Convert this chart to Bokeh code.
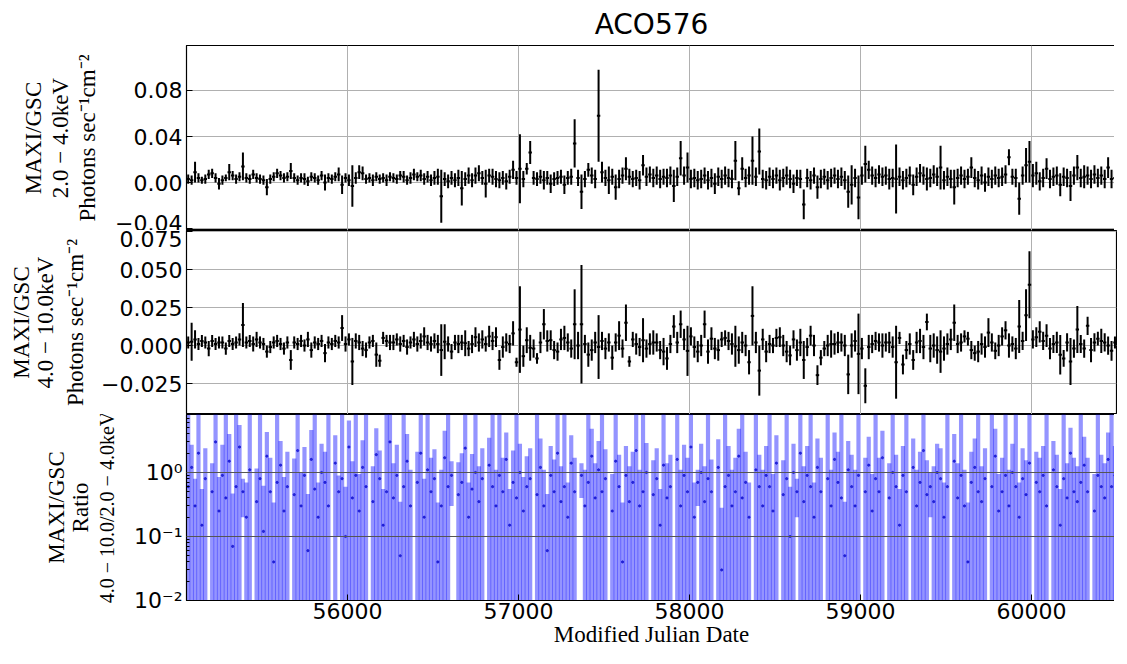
import numpy as np
from bokeh.plotting import figure
from bokeh.layouts import column, row, Spacer
from bokeh.models import (ColumnDataSource, Range1d, SingleIntervalTicker,
                          FixedTicker, CustomJSTickFormatter, LinearAxis)
from bokeh.embed import file_html
from bokeh.resources import INLINE

TITLE = "ACO576"

# bin centres (MJD)
mjd = [55068, 55088, 55108, 55128, 55148, 55168, 55188, 55208, 55228, 55248,
       55268, 55288, 55308, 55328, 55348, 55368, 55388, 55408, 55428, 55448,
       55468, 55488, 55508, 55528, 55548, 55568, 55588, 55608, 55628, 55648,
       55668, 55688, 55708, 55728, 55748, 55768, 55788, 55808, 55828, 55848,
       55868, 55888, 55908, 55928, 55948, 55968, 55988, 56008, 56028, 56048,
       56068, 56088, 56108, 56128, 56148, 56168, 56188, 56208, 56228, 56248,
       56268, 56288, 56308, 56328, 56348, 56368, 56388, 56408, 56428, 56448,
       56468, 56488, 56508, 56528, 56548, 56568, 56588, 56608, 56628, 56648,
       56668, 56688, 56708, 56728, 56748, 56768, 56788, 56808, 56828, 56848,
       56868, 56888, 56908, 56928, 56948, 56968, 56988, 57008, 57028, 57048,
       57068, 57088, 57108, 57128, 57148, 57168, 57188, 57208, 57228, 57248,
       57268, 57288, 57308, 57328, 57348, 57368, 57388, 57408, 57428, 57448,
       57468, 57488, 57508, 57528, 57548, 57568, 57588, 57608, 57628, 57648,
       57668, 57688, 57708, 57728, 57748, 57768, 57788, 57808, 57828, 57848,
       57868, 57888, 57908, 57928, 57948, 57968, 57988, 58008, 58028, 58048,
       58068, 58088, 58108, 58128, 58148, 58168, 58188, 58208, 58228, 58248,
       58268, 58288, 58308, 58328, 58348, 58368, 58388, 58408, 58428, 58448,
       58468, 58488, 58508, 58528, 58548, 58568, 58588, 58608, 58628, 58648,
       58668, 58688, 58708, 58728, 58748, 58768, 58788, 58808, 58828, 58848,
       58868, 58888, 58908, 58928, 58948, 58968, 58988, 59008, 59028, 59048,
       59068, 59088, 59108, 59128, 59148, 59168, 59188, 59208, 59228, 59248,
       59268, 59288, 59308, 59328, 59348, 59368, 59388, 59408, 59428, 59448,
       59468, 59488, 59508, 59528, 59548, 59568, 59588, 59608, 59628, 59648,
       59668, 59688, 59708, 59728, 59748, 59768, 59788, 59808, 59828, 59848,
       59868, 59888, 59908, 59928, 59948, 59968, 59988, 60008, 60028, 60048,
       60068, 60088, 60108, 60128, 60148, 60168, 60188, 60208, 60228, 60248,
       60268, 60288, 60308, 60328, 60348, 60368, 60388, 60408, 60428, 60448,
       60468, 60488]
bin_half_width = 10.0

# 2.0-4.0 keV rate and error (photons/s/cm2)
rate_2_4 = [.003, .002, .009, .004, .002, .003, .007, .008, .004, -.001,
            .002, .004, .009, .006, .003, .005, .014, .004, .003, .007,
            .004, .003, .002, -.004, .003, .005, .008, .006, .004, .005,
            .010, .004, .002, .004, .003, .001, .005, .004, .002, .006,
            .000, .004, .003, .005, .007, -.002, .004, .002, -.003, .004,
            .009, .008, .003, .004, .002, .005, .003, .004, .002, .005,
            .004, .003, .006, .005, .002, .004, .007, .005, .006, .003,
            .005, .002, .004, .005, -.012, .003, .001, .004, .002, .004,
            -.005, .003, .006, .002, .006, .008, .004, -.001, .006, .005,
            .003, .002, .004, .001, .005, .011, .004, .012, .003, .012,
            .026, .004, .003, .005, .002, .004, -.001, .003, .004, .005,
            -.002, .004, .005, .034, .004, -.008, .003, .011, .006, .003,
            .058, .009, .004, .002, .005, -.004, .003, .006, .012, .005,
            .003, .004, .002, .015, .005, .007, .004, .006, .003, .005,
            .004, .006, -.003, .005, .021, .006, .013, .003, .004, .002,
            .003, .006, .002, .004, -.001, .005, .003, .006, .004, .003,
            .019, -.005, .012, .004, .006, .019, .005, .027, .003, .002,
            .005, .003, .006, .002, .004, .006, .003, -.001, .004, .003,
            -.019, .004, .002, .006, -.004, .003, .005, .002, .004, .006,
            .003, .005, .002, -.008, -.002, .004, -.013, .006, .016, .011,
            .006, .004, .007, .005, .006, .003, .004, .003, .005, .002,
            .004, .006, -.002, .005, .008, .006, .003, .004, .007, .005,
            .013, .002, .005, .003, -.004, .004, .006, .003, .005, .013,
            .004, .002, .006, .000, .005, .003, .006, .004, .005, .007,
            .022, .005, .004, -.014, .006, .015, .018, .006, .008, .001,
            .004, .012, .003, .005, .006, -.002, .005, .004, -.003, .006,
            .013, .004, .005, .006, .003, .007, .004, .006, .003, .013,
            .003, .004]
err_2_4 = [.004, .004, .009, .004, .003, .004, .004, .004, .004, .005,
           .004, .003, .007, .004, .004, .004, .012, .004, .004, .004,
           .004, .004, .004, .007, .004, .004, .004, .004, .004, .004,
           .007, .004, .004, .004, .005, .004, .004, .004, .004, .004,
           .007, .004, .004, .004, .006, .008, .004, .005, .018, .005,
           .006, .006, .004, .004, .005, .004, .004, .004, .005, .004,
           .004, .004, .004, .005, .004, .005, .005, .004, .005, .005,
           .005, .005, .006, .007, .023, .006, .006, .006, .006, .007,
           .015, .006, .007, .006, .007, .007, .006, .012, .006, .007,
           .007, .007, .006, .007, .006, .008, .006, .030, .007, .005,
           .010, .006, .006, .006, .008, .006, .008, .006, .006, .006,
           .008, .006, .007, .021, .007, .015, .007, .006, .007, .008,
           .040, .009, .007, .012, .007, .011, .008, .007, .010, .007,
           .007, .007, .008, .009, .008, .007, .008, .008, .008, .007,
           .008, .008, .014, .008, .015, .008, .013, .008, .008, .008,
           .008, .007, .008, .008, .009, .008, .008, .008, .008, .008,
           .017, .006, .010, .008, .008, .021, .008, .020, .008, .008,
           .008, .008, .007, .009, .008, .008, .008, .008, .007, .008,
           .013, .008, .008, .007, .010, .008, .007, .008, .008, .007,
           .008, .008, .008, .014, .017, .008, .019, .008, .016, .008,
           .008, .008, .008, .008, .008, .009, .008, .030, .008, .008,
           .008, .008, .009, .008, .008, .008, .010, .008, .008, .008,
           .019, .008, .008, .008, .015, .008, .008, .008, .007, .009,
           .008, .008, .008, .008, .008, .008, .008, .008, .008, .008,
           .007, .007, .008, .014, .008, .015, .018, .010, .010, .008,
           .008, .009, .008, .008, .008, .010, .008, .008, .013, .008,
           .011, .008, .010, .008, .008, .008, .008, .008, .008, .009,
           .008, .006]

# 4.0-10.0 keV rate and error (photons/s/cm2)
rate_4_10 = [.002, .0025, .004, .001, .003, .002, -.002, .003, .001, .002,
             .002, -.002, .003, .001, .002, .004, .0135, .002, .003, .001,
             .004, .002, .001, -.004, -.001, .002, .003, .001, -.002, .002,
             -.0095, .002, .001, .003, .000, .004, -.003, .002, .001, .003,
             -.005, .002, .001, .003, .002, .0115, .001, .004, -.0105, .003,
             .002, -.002, -.003, .002, .003, -.006, -.010, .005, .003, .002,
             .002, .004, .001, .003, -.001, .002, .004, .001, .003, .006,
             .002, .001, .003, .001, -.003, .0025, .001, -.004, .002, .001,
             .002, .0015, -.002, .001, .0055, .002, .004, .001, .006, .003,
             .0055, -.0095, -.001, .002, .001, .008, -.011, .0105, -.007, .0035,
             -.0015, -.002, -.0085, .002, .014, .003, .0035, -.003, -.004, .004,
             .005, .002, -.002, .014, .000, .014, .001, -.006, -.003, .002,
             -.001, .003, -.002, .002, -.008, .002, .0065, -.002, .015, -.0105,
             .004, .001, -.001, .0035, -.002, .001, .002, .002, -.003, -.004,
             -.0085, .001, .0125, .002, .014, .004, -.0035, .006, -.001, -.004,
             .000, .014, -.004, .0045, -.002, -.003, .004, .005, .003, .001,
             -.0005, -.003, .002, .000, -.011, .0195, .002, -.0165, .004, -.004,
             .001, .000, .005, .0055, .000, -.004, -.0065, .004, -.003, .002,
             -.0095, -.001, .0065, .000, -.0195, -.008, -.002, .000, .001, .001,
             .002, .002, .000, -.019, .000, .003, -.0055, -.002, -.0265, -.001,
             .001, .003, .002, .000, .002, .002, -.001, -.011, .005, -.0125,
             -.003, .001, -.0095, .002, .003, -.001, .0155, -.002, .000, -.003,
             -.004, -.002, .001, .004, .015, .001, .002, .006, .0045, -.003,
             -.005, -.004, .001, -.001, .0085, .002, -.0035, .000, .006, .010,
             .000, .001, -.002, .0125, .003, .020, .040, .004, .0055, .009,
             .003, .0065, -.002, .001, .002, -.006, -.0085, .002, -.0105, -.002,
             .0105, .001, -.002, .013, -.003, .002, .0045, .003, .002, .000,
             -.0035, .002]
err_4_10 = [.004, .0125, .006, .004, .004, .004, .005, .004, .004, .004,
            .004, .004, .004, .004, .004, .004, .0145, .004, .004, .005,
            .005, .004, .004, .004, .004, .004, .004, .004, .004, .004,
            .0065, .004, .004, .004, .004, .005, .005, .004, .004, .004,
            .006, .004, .004, .004, .004, .0085, .005, .004, .0155, .005,
            .005, .005, .005, .004, .004, .008, .004, .004, .004, .005,
            .005, .004, .005, .004, .005, .004, .005, .005, .005, .006,
            .005, .005, .005, .006, .017, .0115, .005, .005, .005, .006,
            .005, .0085, .005, .006, .0065, .006, .006, .005, .007, .006,
            .0065, .0065, .007, .006, .006, .008, .003, .0285, .007, .0085,
            .0085, .006, .0035, .007, .010, .007, .0065, .006, .006, .007,
            .008, .006, .006, .023, .009, .039, .006, .008, .007, .007,
            .021, .006, .007, .006, .008, .006, .0095, .006, .012, .0035,
            .005, .007, .006, .0145, .006, .007, .008, .006, .006, .009,
            .0075, .006, .0075, .007, .009, .007, .0165, .006, .007, .007,
            .007, .009, .008, .0075, .007, .007, .005, .005, .006, .007,
            .0135, .009, .007, .007, .008, .0195, .007, .0165, .007, .007,
            .006, .005, .006, .0065, .007, .007, .0065, .006, .007, .009,
            .0125, .006, .0065, .007, .0065, .005, .005, .007, .009, .007,
            .007, .006, .007, .013, .008, .007, .0265, .007, .0115, .008,
            .006, .006, .006, .008, .006, .007, .007, .024, .004, .0065,
            .006, .007, .0065, .007, .008, .008, .0055, .009, .008, .009,
            .014, .008, .007, .007, .012, .006, .006, .004, .0045, .006,
            .005, .007, .007, .007, .0095, .006, .0055, .007, .006, .006,
            .008, .005, .007, .0175, .006, .017, .022, .006, .0065, .007,
            .006, .0075, .007, .006, .007, .013, .0055, .006, .0155, .006,
            .0155, .006, .006, .006, .008, .006, .0045, .008, .006, .006,
            .0065, .004]

# hardness ratio (4.0-10.0 / 2.0-4.0) and its error; None = not positive
ratio = [.6, 1.2, .3, 2.0, .15, .8, None, .5, 3.0, .25,
         .9, .4, 1.5, .07, .6, 2.5, .5, .2, 1.1, None,
         .35, .8, .12, 1.8, .5, .04, .7, 1.3, .25, .6,
         None, .45, 2.2, .3, .9, .06, 1.6, .55, .2, 1.0,
         .7, .3, None, 1.4, .5, .8, .1, 2.5, .4, .9,
         .25, 1.2, .6, None, .35, 1.9, .8, .15, .5, 3.0,
         .4, .9, .05, .6, 1.5, .3, None, .7, 2.0, .2,
         1.1, .5, .8, .04, .3, 1.7, .6, .9, None, .45,
         .7, 2.4, .2, .55, 1.0, .35, .8, None, 1.3, .6,
         .3, .9, .5, 1.6, .15, .7, .4, 1.0, .25, .6,
         .8, None, .45, 1.2, .3, .06, .9, .5, 2.0, .35,
         .6, .2, 1.4, .5, None, .9, .3, .7, 1.8, .4,
         1.1, .5, .8, None, .25, 1.5, .6, .04, .9, .35,
         .7, 2.2, .3, .5, 1.0, None, .45, .8, .15, 1.3,
         .4, .6, None, 1.6, .3, .9, .5, 2.5, .2, .7,
         1.0, .35, .8, .5, None, 1.2, .03, .6, .9, .3,
         .5, 1.8, .4, .7, .2, None, 1.1, .6, .3, .9,
         .6, .25, 1.4, None, .45, .8, .1, 1.0, .5, 2.0,
         .35, .9, .6, .2, 1.2, .5, None, .8, .3, 1.6,
         .7, .4, .05, 1.1, .6, .3, .9, None, .5, 1.3,
         .25, .8, .5, 1.7, None, .4, 1.0, .6, .15, .9,
         .5, None, 1.2, .3, .7, 2.2, .45, .6, .35, 1.0,
         .8, .2, .6, None, 1.5, .4, .9, .3, .04, .7,
         1.2, .5, .35, .8, None, .6, 1.8, .25, .5, .9,
         .3, 1.0, .6, .2, .8, .45, 1.4, None, .7, .5,
         .9, .3, None, 1.1, .6, .15, .8, .4, 2.0, .5,
         .35, .7, 1.3, .5, None, .25, .9, .6, .4, 1.6,
         .6, .9]
ratio_err = [9, 1.5, .5, 10, .4, 1.6, 1, .9, 12, .6,
             1.8, 8, 2.5, .4, 10, 3, .3, .5, 9, 1,
             .8, 12, .5, 2.5, 1.2, .3, 9, 1.8, .6, 1.5,
             1, 1.2, 9, .7, 1.6, .4, 3, 11, .5, 1.8,
             1.4, 9, 1, 2.4, .4, 12, .5, 4, 1.1, 10,
             .7, 2, 9, 1, .9, 3, 1.4, .4, 10, 9,
             1, 1.8, .3, 11, 2.5, .8, 1, 1.4, 10, .6,
             9, 1.2, 1.5, .3, .8, 2.8, 10, .6, 1, 1,
             1.3, 9, .5, 1.4, 11, .9, 1.6, 1, 2.2, 9,
             .8, 10, 1.2, 2.6, .4, 1.5, 9, 1.8, .6, 1.2,
             1.6, 1, 10, 2.2, .8, .4, 1.7, 1.1, 9, .9,
             10, .5, 2.4, 1.2, 1, .5, .8, 9, 3, 1,
             2, 9, 1.5, 1, .7, 11, 1.3, .3, 1.7, .9,
             1.4, 9, .8, 10, 1.9, 1, 1.1, 1.6, .4, 12,
             1, 1.3, 1, 9, .8, 1.8, 1.2, 10, .5, .4,
             1.8, .9, 10, 1.1, 1, 2.1, .25, 9, 1.7, .8,
             1.2, 3, 9, 1.4, .5, 1, 11, 1.3, .8, 1.7,
             9, .7, 2.4, 1, 1.1, 10, .5, 1.8, .3, 9,
             .9, 1.7, 11, .5, 2.2, 1.2, 1, 9, .8, 2.6,
             1.4, 10, .3, 2, 1.3, .8, 9, 1, 1.2, 2.3,
             .7, 9, 1.2, 2.8, 1, 1, 11, 1.3, .4, 1.7,
             10, 1, 2.2, .8, 1.4, 9, 1.1, .4, .9, 1.8,
             1.6, .5, 9, 1, 2.5, 1, 10, .8, .3, 1.4,
             2.2, 9, .9, 1.6, 1, 11, 3, .7, 1.2, 9,
             .8, 1.8, 10, .5, 1.6, 1.1, 9, 1, 1.4, 1.2,
             1.7, 9, 1, 2, 1.3, .4, 10, 1, 3, 1.2,
             .9, 9, 2.3, 1.2, 1, .7, 11, 1.3, 1, 2.6,
             9, 1.7]

y1_lines = ["MAXI/GSC", "2.0 \u2212 4.0keV", "Photons sec\u207b\u00b9cm\u207b\u00b2"]
y2_lines = ["MAXI/GSC", "4.0 \u2212 10.0keV", "Photons sec\u207b\u00b9cm\u207b\u00b2"]
y3_lines = ["MAXI/GSC", "Ratio", "4.0 \u2212 10.0/2.0 \u2212 4.0keV"]
x_label = "Modified Julian Date"

# ---------------------------------------------------------------------------
x = np.array(mjd, dtype=float)
r1 = np.array(rate_2_4); e1 = np.array(err_2_4)
r2 = np.array(rate_4_10); e2 = np.array(err_4_10)
rr = np.array(ratio, dtype=float); re_ = np.array(ratio_err, dtype=float)
ok = ~np.isnan(rr)
rx = x[ok]; rv = rr[ok]; rerr = re_[ok]
rlo = np.where(rv - rerr > 0.006, rv - rerr, 0.006)
rhi = np.minimum(rv + rerr, 30.0)

LEFT = 178
FRAME_W = 930
RIGHT = 1
TICK_FONT = "DejaVu Sans"
SERIF = "Liberation Serif"

x_range = Range1d(55058, 60497)


def add_label_axis(p, text, standoff, size="23px"):
    ax = LinearAxis(ticker=FixedTicker(ticks=[]), axis_label=text,
                    axis_label_standoff=standoff,
                    axis_label_text_font=SERIF,
                    axis_label_text_font_size=size,
                    axis_label_text_font_style="normal",
                    axis_label_text_color="black",
                    axis_line_color=None, major_tick_line_color=None,
                    minor_tick_line_color=None,
                    major_label_text_font_size="0px",
                    major_label_standoff=0, major_tick_in=0, major_tick_out=0,
                    minor_tick_in=0, minor_tick_out=0)
    p.add_layout(ax, "left")


def style(p, lines, standoffs, sizes=("23px", "23px", "23px")):
    p.outline_line_color = "black"
    p.outline_line_width = 1.2
    p.outline_line_alpha = 1
    p.background_fill_color = "white"
    p.border_fill_color = "white"
    ax = p.left[0]
    ax.axis_label = lines[2]
    ax.axis_label_text_font = SERIF
    ax.axis_label_text_font_style = "normal"
    ax.axis_label_text_font_size = sizes[2]
    ax.axis_label_text_color = "black"
    ax.axis_label_standoff = standoffs[0]
    ax.major_label_text_font = TICK_FONT
    ax.major_label_text_font_size = "22px"
    ax.major_label_text_color = "black"
    ax.major_label_standoff = 4
    ax.major_tick_in = 6
    ax.major_tick_out = 0
    ax.minor_tick_in = 3
    ax.minor_tick_out = 0
    ax.axis_line_color = "black"
    ax.major_tick_line_color = "black"
    ax.minor_tick_line_color = "black"
    add_label_axis(p, lines[1], standoffs[1], sizes[1])
    add_label_axis(p, lines[0], standoffs[2], sizes[0])
    p.xgrid.ticker = SingleIntervalTicker(interval=1000)
    return ax


def rate_panel(frame_h, y0, y1, interval, digits, lines, standoffs, top, src):
    p = figure(frame_width=FRAME_W, frame_height=frame_h, x_range=x_range,
               y_range=Range1d(y0, y1), x_axis_location=None,
               output_backend="svg", toolbar_location=None,
               min_border_left=LEFT, min_border_right=RIGHT,
               min_border_top=top, min_border_bottom=0)
    ax = style(p, lines, standoffs)
    ax.ticker = SingleIntervalTicker(interval=interval, num_minor_ticks=0)
    ax.formatter = CustomJSTickFormatter(code=(
        "const v = Math.abs(tick) < 1e-9 ? 0 : tick;"
        "return (v < 0 ? '\u2212' : '') + Math.abs(v).toFixed(%d);" % digits))
    for g in (p.xgrid, p.ygrid):
        g.grid_line_color = "#b0b0b0"
        g.grid_line_width = 1
    p.segment(x0="x", y0="lo", x1="x", y1="hi", source=src,
              line_color="black", line_width=2)
    p.segment(x0="xl", y0="c", x1="xr", y1="c", source=src,
              line_color="black", line_width=2)
    return p


src1 = ColumnDataSource(dict(x=x, lo=r1 - e1, hi=r1 + e1, c=r1,
                             xl=x - bin_half_width, xr=x + bin_half_width))
src2 = ColumnDataSource(dict(x=x, lo=r2 - e2, hi=r2 + e2, c=r2,
                             xl=x - bin_half_width, xr=x + bin_half_width))

p1 = rate_panel(185, -0.0417, 0.1191, 0.04, 2, y1_lines, (12, 0, -1), 35, src1)
p1.title.text = TITLE
p1.title.align = "center"
p1.title.text_font = TICK_FONT
p1.title.text_font_size = "28px"
p1.title.text_font_style = "normal"
p1.title.text_color = "black"

p2 = rate_panel(184, -0.0454, 0.0757, 0.025, 3, y2_lines, (10, 3, -4), 0, src2)

# ratio panel
p3 = figure(frame_width=FRAME_W, frame_height=186, x_range=x_range,
            y_range=Range1d(0.01, 8.05), y_axis_type="log",
            output_backend="svg", toolbar_location=None,
            min_border_left=LEFT, min_border_right=RIGHT,
            min_border_top=0, min_border_bottom=10)
ax3 = style(p3, y3_lines, (13, 1, -4), sizes=("23px", "23px", "20px"))
major = [0.01, 0.1, 1.0]
minor = [m * 10.0 ** k for k in (-2, -1, 0) for m in range(2, 10)]
ax3.ticker = FixedTicker(ticks=major, minor_ticks=minor)
ax3.formatter = CustomJSTickFormatter(code="""
const e = Math.round(Math.log10(tick));
const sup = {'-':'\u207b','0':'\u2070','1':'\u00b9','2':'\u00b2','3':'\u00b3'};
return '10' + String(e).split('').map(c => sup[c]).join('');
""")
xa = p3.below[0]
xa.ticker = SingleIntervalTicker(interval=1000, num_minor_ticks=0)
xa.axis_label = x_label
xa.axis_label_text_font = SERIF
xa.axis_label_text_font_style = "normal"
xa.axis_label_text_font_size = "23px"
xa.axis_label_text_color = "black"
xa.axis_label_standoff = 0
xa.major_label_text_font = TICK_FONT
xa.major_label_text_font_size = "22px"
xa.major_label_text_color = "black"
xa.major_label_standoff = 2
xa.major_tick_in = 6
xa.major_tick_out = 0
xa.minor_tick_in = 0
xa.minor_tick_out = 0
xa.axis_line_color = "black"
p3.xgrid.visible = False
p3.ygrid.ticker = FixedTicker(ticks=major)
p3.ygrid.grid_line_color = "#555555"
p3.ygrid.grid_line_width = 1
p3.ygrid.level = "overlay"

src3 = ColumnDataSource(dict(x=rx, lo=rlo, hi=rhi, c=rv))
p3.segment(x0="x", y0="lo", x1="x", y1="hi", source=src3,
           line_color="#0000ff", line_alpha=0.42, line_width=4.2)
p3.scatter(x="x", y="c", source=src3, size=2.2, color="#1010d0", alpha=0.8)

layout = row(Spacer(width=5, height=10), column(p1, p2, p3))

open("out.html", "w").write(file_html(layout, INLINE, title=TITLE))
